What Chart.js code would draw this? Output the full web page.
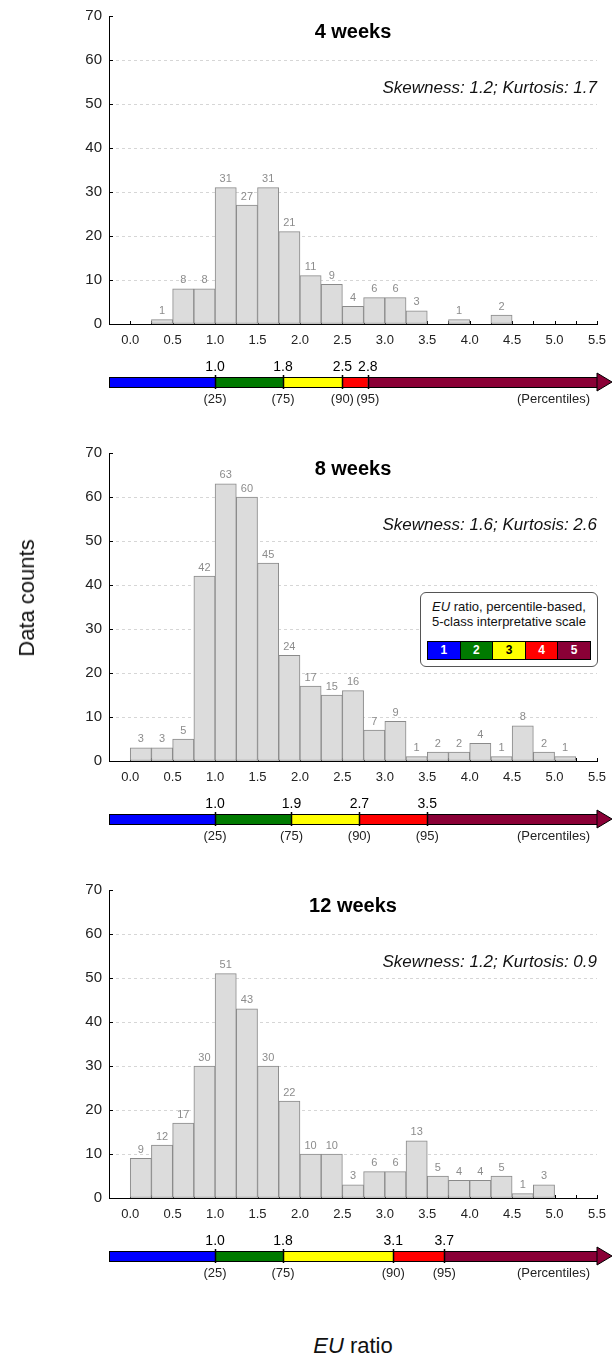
<!DOCTYPE html>
<html>
<head>
<meta charset="utf-8">
<script src="https://cdn.jsdelivr.net/npm/chart.js@4.4.1/dist/chart.umd.min.js"></script>
<style>
  body { margin: 0; background: #fff; font-family: "Liberation Sans", Arial, sans-serif; }
  #page { position: relative; width: 613px; height: 1360px; overflow: hidden; }
  .panel { position: absolute; left: 0; width: 613px; height: 437px; }
  #yTitle { position: absolute; left: 27px; top: 598px; transform: translate(-50%, -50%) rotate(-90deg); font-size: 22px; white-space: nowrap; color: #111; }
  #xTitle { position: absolute; left: 353px; top: 1346px; transform: translate(-50%, -50%); font-size: 22px; white-space: nowrap; color: #111; }
  #legendBox { position: absolute; left: 420px; top: 592px; width: 178px; height: 75px; box-sizing: border-box;
    border: 1px solid #555; border-radius: 6px; background: #fff; text-align: center; font-size: 13px; line-height: 15px; padding-top: 6px; color: #111; }
  #legendRow { position: absolute; left: 6px; top: 48px; width: 164px; height: 19px; display: flex; border: 1px solid #000; box-sizing: border-box; }
  #legendRow div { flex: 1; border-left: 1px solid #000; color: #fff; font-weight: bold; font-size: 12px; line-height: 17px; }
  #legendRow div:first-child { border-left: none; }
</style>
</head>
<body>
<div id="page">
  <div class="panel" style="top:0"><canvas id="c4"></canvas></div>
  <div class="panel" style="top:437px"><canvas id="c8"></canvas></div>
  <div class="panel" style="top:874px"><canvas id="c12"></canvas></div>
  <div id="yTitle">Data counts</div>
  <div id="xTitle"><i>EU</i> ratio</div>
  <div id="legendBox">
    <div><i>EU</i> ratio, percentile-based,</div>
    <div>5-class interpretative scale</div>
    <div id="legendRow"></div>
  </div>
</div>
<script>
// histogram bins (lower edges, width 0.25)
const binEdges = [0.00, 0.25, 0.50, 0.75, 1.00, 1.25, 1.50, 1.75, 2.00, 2.25, 2.50,
                  2.75, 3.00, 3.25, 3.50, 3.75, 4.00, 4.25, 4.50, 4.75, 5.00, 5.25];
const binWidth = 0.25;

const counts4w  = [0, 1, 8, 8, 31, 27, 31, 21, 11, 9, 4, 6, 6, 3, 0, 1, 0, 2, 0, 0, 0, 0];
const counts8w  = [3, 3, 5, 42, 63, 60, 45, 24, 17, 15, 16, 7, 9, 1, 2, 2, 4, 1, 8, 2, 1, 0];
const counts12w = [9, 12, 17, 30, 51, 43, 30, 22, 10, 10, 3, 6, 6, 13, 5, 4, 4, 5, 1, 3, 0, 0];

const titles = ["4 weeks", "8 weeks", "12 weeks"];
const skewness = [1.2, 1.6, 1.2];
const kurtosis = [1.7, 2.6, 0.9];

// percentile cut points of the 5-class scale
const cuts4w  = [1.0, 1.8, 2.5, 2.8];
const cuts8w  = [1.0, 1.9, 2.7, 3.5];
const cuts12w = [1.0, 1.8, 3.1, 3.7];
const pctLabels = ["(25)", "(75)", "(90)", "(95)"];

const classLabels = ["1", "2", "3", "4", "5"];
const classColors = ["#0000ff", "#007a00", "#ffff00", "#ff0000", "#8a0036"];

const xTicks = [0, 0.5, 1, 1.5, 2, 2.5, 3, 3.5, 4, 4.5, 5, 5.5];
const yTicks = [0, 10, 20, 30, 40, 50, 60, 70];

Chart.defaults.font.family = '"Liberation Sans", Arial, sans-serif';

// legend row
const row = document.getElementById("legendRow");
classLabels.forEach((lab, i) => {
    const d = document.createElement("div");
    d.textContent = lab;
    d.style.background = classColors[i];
    if (i === 2) d.style.color = "#000";
    row.appendChild(d);
});

const histDecor = {
    id: "histDecor",
    beforeDatasetsDraw(chart) {
        const ctx = chart.ctx, x = chart.scales.x, y = chart.scales.y;
        ctx.save();
        ctx.strokeStyle = "#000";
        ctx.lineWidth = 1;
        ctx.beginPath();
        // small inward ticks
        for (let v = 0; v <= 5.5 + 1e-9; v += binWidth) {
            const px = Math.round(x.getPixelForValue(v)) + 0.5;
            ctx.moveTo(px, y.bottom);
            ctx.lineTo(px, y.bottom - 3);
        }
        yTicks.forEach(v => {
            const py = Math.round(y.getPixelForValue(v)) + 0.5;
            ctx.moveTo(x.left, py);
            ctx.lineTo(x.left + 4, py);
        });
        ctx.stroke();
        ctx.restore();
    },
    afterDatasetsDraw(chart) {
        const ctx = chart.ctx;
        const meta = chart.getDatasetMeta(0);
        const data = chart.data.datasets[0].data;
        ctx.save();
        ctx.fillStyle = "#8c8c8c";
        ctx.font = '11px "Liberation Sans", Arial, sans-serif';
        ctx.textAlign = "center";
        ctx.textBaseline = "bottom";
        meta.data.forEach((bar, i) => {
            if (!data[i].y) return;
            ctx.fillText(String(data[i].y), bar.x, bar.y - 3);
        });
        ctx.restore();
    },
    afterDraw(chart, args, opts) {
        const ctx = chart.ctx, x = chart.scales.x, area = chart.chartArea;
        ctx.save();
        // title + stats
        ctx.fillStyle = "#000";
        ctx.textAlign = "center";
        ctx.textBaseline = "middle";
        ctx.font = 'bold 20px "Liberation Sans", Arial, sans-serif';
        ctx.fillText(opts.title, (area.left + area.right) / 2, area.top + 16);
        ctx.fillStyle = "#111";
        ctx.textAlign = "right";
        ctx.font = 'italic 17px "Liberation Sans", Arial, sans-serif';
        ctx.fillText("Skewness: " + opts.skew.toFixed(1) + "; Kurtosis: " + opts.kurt.toFixed(1), area.right, area.top + 72);

        // colour arrow with percentile cuts
        const y0 = area.bottom + 53, h = 10;
        const xs = [x.left].concat(opts.cuts.map(c => x.getPixelForValue(c)), [x.right]);
        for (let i = 0; i < 5; i++) {
            ctx.fillStyle = classColors[i];
            ctx.fillRect(xs[i], y0, xs[i + 1] - xs[i], h);
        }
        ctx.strokeStyle = "#000";
        ctx.lineWidth = 1;
        ctx.strokeRect(x.left + 0.5, y0 + 0.5, x.right - x.left, h);
        // arrow head
        const mid = y0 + h / 2;
        ctx.beginPath();
        ctx.moveTo(x.right, mid - 9);
        ctx.lineTo(x.right + 15, mid);
        ctx.lineTo(x.right, mid + 9);
        ctx.closePath();
        ctx.fillStyle = classColors[4];
        ctx.fill();
        ctx.stroke();
        // dividers
        ctx.lineWidth = 1.5;
        ctx.beginPath();
        opts.cuts.forEach(c => {
            const px = Math.round(x.getPixelForValue(c)) + 0.5;
            ctx.moveTo(px, y0 - 2);
            ctx.lineTo(px, y0 + h + 2);
        });
        ctx.stroke();
        // labels
        ctx.textAlign = "center";
        ctx.fillStyle = "#000";
        ctx.font = '14px "Liberation Sans", Arial, sans-serif';
        opts.cuts.forEach(c => ctx.fillText(c.toFixed(1), x.getPixelForValue(c), y0 - 10));
        ctx.fillStyle = "#222";
        ctx.font = '13px "Liberation Sans", Arial, sans-serif';
        opts.cuts.forEach((c, i) => ctx.fillText(pctLabels[i], x.getPixelForValue(c), y0 + h + 12));
        ctx.textAlign = "right";
        ctx.fillText("(Percentiles)", x.right - 7, y0 + h + 12);
        ctx.restore();
    }
};

function makeHistogram(canvasId, counts, cuts, k) {
    const points = binEdges.map((e, i) => ({ x: e + binWidth / 2, y: counts[i] }));
    new Chart(document.getElementById(canvasId), {
        type: "bar",
        data: {
            datasets: [{
                data: points,
                backgroundColor: "#dcdcdc",
                borderColor: "#8a8a8a",
                borderWidth: 1,
                borderSkipped: false,
                barPercentage: 1,
                categoryPercentage: 1
            }]
        },
        plugins: [histDecor],
        options: {
            responsive: true,
            maintainAspectRatio: false,
            animation: false,
            layout: { padding: { top: 16, right: 16, left: 0, bottom: 0 } },
            plugins: {
                legend: { display: false },
                tooltip: { enabled: false },
                histDecor: { title: titles[k], skew: skewness[k], kurt: kurtosis[k], cuts: cuts }
            },
            scales: {
                x: {
                    type: "linear",
                    min: -0.25,
                    max: 5.5,
                    offset: false,
                    grid: { display: false, offset: false },
                    border: { display: true, color: "#000", width: 1 },
                    afterBuildTicks: s => { s.ticks = xTicks.map(v => ({ value: v })); },
                    afterFit: s => { s.height = 113; },
                    ticks: {
                        autoSkip: false,
                        maxRotation: 0,
                        padding: 1,
                        color: "#222",
                        font: { size: 13 },
                        callback: v => Number(v).toFixed(1)
                    }
                },
                y: {
                    min: 0,
                    max: 70,
                    afterBuildTicks: s => { s.ticks = yTicks.map(v => ({ value: v })); },
                    afterFit: s => { s.width = 109; },
                    grid: {
                        drawTicks: false,
                        color: c => (c.tick && (c.tick.value === 0 || c.tick.value === 70)) ? "rgba(0,0,0,0)" : "#d6d6d6"
                    },
                    border: { display: true, color: "#000", width: 1, dash: [3, 3] },
                    ticks: { padding: 7, color: "#222", font: { size: 15 } }
                }
            }
        }
    });
}

makeHistogram("c4", counts4w, cuts4w, 0);
makeHistogram("c8", counts8w, cuts8w, 1);
makeHistogram("c12", counts12w, cuts12w, 2);
</script>
</body>
</html>
